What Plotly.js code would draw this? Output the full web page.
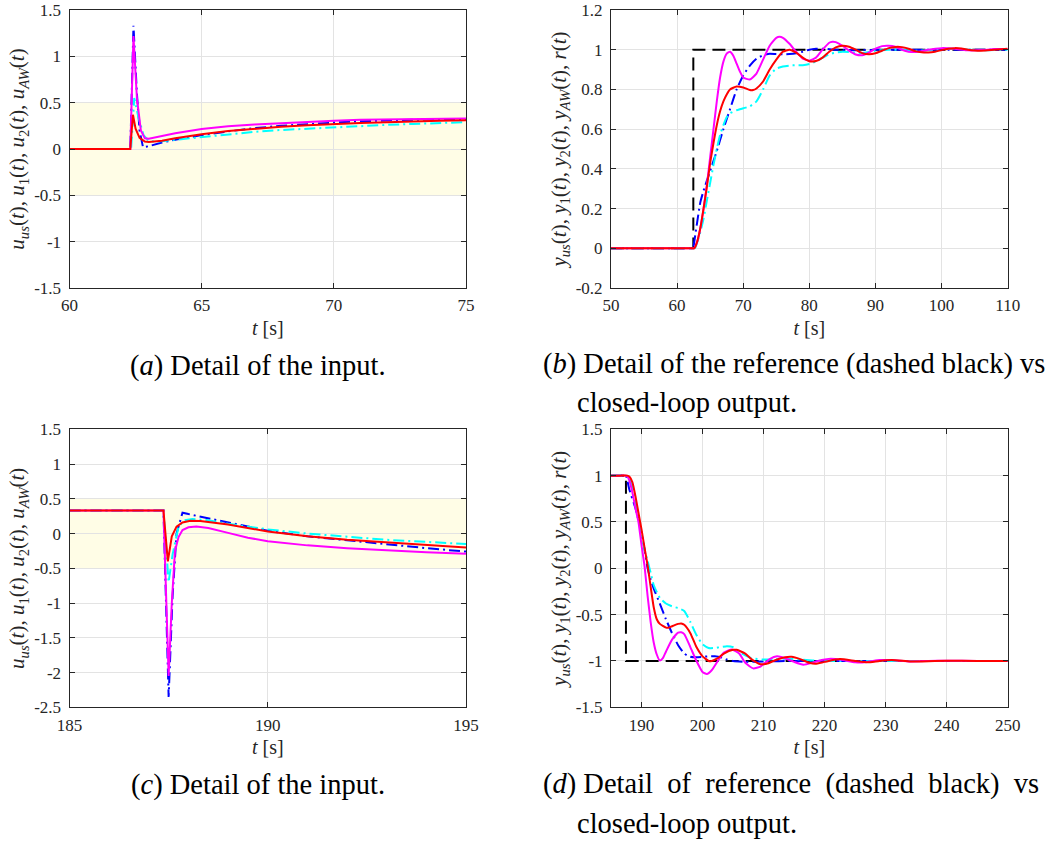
<!DOCTYPE html>
<html>
<head>
<meta charset="utf-8">
<script src="https://cdn.plot.ly/plotly-3.0.1.min.js"></script>
<style>html,body{margin:0;padding:0;background:#fff;}#chart{width:1060px;height:842px;}</style>
</head>
<body>
<div id="chart"></div>
<script>
// ---------- Panel (a): input detail around first step ----------
const tA_us = [60, 62.3, 62.42, 62.55, 62.65, 62.78, 63.0, 63.5, 64, 65, 66, 67, 68, 69, 70, 71, 72, 73, 74, 75];
const uA_us = [0, 0, 1.33, 0.6, 0.2, 0.02, 0.03, 0.07, 0.1, 0.15, 0.19, 0.225, 0.25, 0.27, 0.285, 0.3, 0.31, 0.315, 0.32, 0.325];
const tA_1 = [60, 62.33, 62.45, 62.6, 62.8, 63.0, 63.3, 64, 65, 66, 67, 68, 69, 70, 71, 72, 73, 74, 75];
const uA_1 = [0, 0, 0.55, 0.35, 0.15, 0.085, 0.08, 0.1, 0.13, 0.16, 0.185, 0.205, 0.22, 0.235, 0.25, 0.26, 0.27, 0.282, 0.29];
const tA_2 = [60, 62.3, 62.42, 62.55, 62.7, 62.85, 63.0, 63.5, 64, 65, 66, 67, 68, 69, 70, 71, 72, 73, 74, 75];
const uA_2 = [0, 0, 1.22, 0.55, 0.2, 0.115, 0.11, 0.14, 0.17, 0.215, 0.245, 0.265, 0.28, 0.295, 0.305, 0.315, 0.32, 0.325, 0.328, 0.33];
const tA_AW = [60, 62.3, 62.4, 62.5, 62.65, 62.85, 63.0, 63.5, 64, 65, 66, 67, 68, 69, 70, 71, 72, 73, 74, 75];
const uA_AW = [0, 0, 0.37, 0.22, 0.12, 0.08, 0.075, 0.09, 0.115, 0.16, 0.195, 0.22, 0.24, 0.255, 0.27, 0.28, 0.29, 0.3, 0.305, 0.31];

// ---------- Panel (b): output vs reference, first step ----------
const tB_r = [50, 62.45, 62.45, 110];
const yB_r = [0, 0, 1, 1];
const tB_us = [50, 60, 62.2, 62.4, 62.8, 63.5, 64, 65, 66, 67, 68, 69, 70, 71, 72, 73, 74, 75, 76, 77, 78, 79, 80, 81, 82, 84, 86, 88, 90, 95, 100, 105, 110];
const yB_us = [0, 0, 0, 0, 0.08, 0.23, 0.29, 0.39, 0.49, 0.6, 0.7, 0.8, 0.87, 0.92, 0.955, 0.972, 0.98, 0.978, 0.977, 0.978, 0.982, 0.99, 1.0, 1.005, 1.005, 1.0, 0.998, 0.998, 1.0, 1.0, 1.0, 1.0, 1.0];
const tB_1 = [50, 60, 62.4, 62.7, 63.5, 64, 64.5, 65, 65.5, 66, 66.5, 67, 67.5, 68, 69, 70, 71, 72, 73, 74, 75, 76, 77, 78, 79, 80, 81, 82, 83, 84, 85, 86, 87, 88, 89, 90, 92, 94, 96, 98, 100, 102, 104, 106, 108, 110];
const yB_1 = [0, 0, 0, 0, 0.08, 0.15, 0.24, 0.33, 0.42, 0.5, 0.57, 0.62, 0.66, 0.68, 0.695, 0.705, 0.715, 0.74, 0.8, 0.87, 0.905, 0.915, 0.92, 0.922, 0.922, 0.928, 0.94, 0.96, 0.978, 0.985, 0.99, 0.988, 0.984, 0.983, 0.988, 0.995, 1.0, 1.0, 0.995, 0.997, 1.003, 1.005, 1.0, 0.997, 0.998, 1.0];
const tB_2 = [50, 60, 62.2, 62.5, 63, 63.5, 64, 64.5, 65, 65.5, 66, 66.5, 67, 67.5, 68, 68.5, 69, 69.5, 70, 71, 72, 73, 74, 75, 75.5, 76, 77, 78, 79, 80, 81, 82, 83, 83.5, 84, 85, 86, 87, 88, 89, 90, 91, 92, 93, 94, 95, 96, 97, 98, 100, 102, 104, 106, 108, 110];
const yB_2 = [0, 0, 0, 0, 0.03, 0.1, 0.2, 0.32, 0.46, 0.6, 0.74, 0.86, 0.94, 0.98, 0.99, 0.97, 0.93, 0.89, 0.86, 0.85, 0.88, 0.95, 1.02, 1.06, 1.065, 1.06, 1.03, 0.99, 0.955, 0.945, 0.96, 1.0, 1.035, 1.04, 1.038, 1.02, 0.995, 0.976, 0.972, 0.985, 1.005, 1.018, 1.02, 1.015, 1.0, 0.99, 0.988, 0.992, 1.0, 1.008, 1.005, 0.997, 0.998, 1.003, 1.003];
const tB_AW = [50, 60, 62.3, 62.6, 63, 63.5, 64, 64.5, 65, 65.5, 66, 66.5, 67, 67.5, 68, 69, 70, 71, 71.5, 72, 73, 74, 75, 76, 77, 78, 79, 80, 81, 82, 83, 84, 85, 86, 87, 88, 89, 90, 91, 92, 93, 94, 95, 96, 97, 98, 99, 100, 101, 102, 103, 104, 105, 106, 107, 108, 110];
const yB_AW = [0, 0, 0, 0, 0.03, 0.1, 0.2, 0.31, 0.43, 0.53, 0.62, 0.69, 0.74, 0.775, 0.8, 0.815, 0.81, 0.797, 0.797, 0.805, 0.84, 0.9, 0.95, 0.99, 1.0, 0.985, 0.96, 0.942, 0.943, 0.96, 0.99, 1.012, 1.02, 1.015, 1.0, 0.983, 0.977, 0.982, 0.995, 1.008, 1.014, 1.013, 1.005, 0.993, 0.987, 0.986, 0.99, 0.998, 1.005, 1.008, 1.006, 1.0, 0.996, 0.995, 0.997, 1.0, 1.005];

// ---------- Panel (c): input detail around second step ----------
const tC_us = [185, 187.37, 187.5, 187.6, 187.7, 187.85, 188.0, 188.5, 189, 190, 191, 192, 193, 194, 195];
const uC_us = [0.33, 0.33, -2.35, -0.9, 0.0, 0.3, 0.28, 0.22, 0.15, 0.04, -0.04, -0.1, -0.16, -0.21, -0.26];
const tC_1 = [185, 187.37, 187.5, 187.6, 187.75, 187.9, 188.1, 188.5, 189, 190, 191, 192, 193, 194, 195];
const uC_1 = [0.33, 0.33, -0.7, -0.3, 0.1, 0.19, 0.21, 0.19, 0.14, 0.06, 0.0, -0.05, -0.09, -0.12, -0.15];
const tC_2 = [185, 187.37, 187.5, 187.58, 187.66, 187.75, 187.85, 188.0, 188.2, 188.5, 189, 189.5, 190, 191, 192, 193, 194, 195];
const uC_2 = [0.33, 0.33, -2.05, -1.0, -0.25, -0.05, 0.05, 0.09, 0.1, 0.08, 0.01, -0.06, -0.11, -0.17, -0.21, -0.245, -0.27, -0.29];
const tC_AW = [185, 187.37, 187.48, 187.58, 187.7, 187.85, 188.05, 188.3, 188.6, 189, 190, 191, 192, 193, 194, 195];
const uC_AW = [0.33, 0.33, -0.4, -0.04, 0.1, 0.16, 0.185, 0.18, 0.16, 0.13, 0.03, -0.04, -0.09, -0.13, -0.17, -0.2];

// ---------- Panel (d): output vs reference, second step ----------
const tD_r = [185, 187.45, 187.45, 250];
const yD_r = [1, 1, -1, -1];
const tD_us = [185, 186.5, 187.3, 187.5, 188, 189, 190, 190.5, 191, 191.5, 192, 193, 194, 195, 196, 197, 198, 199, 200, 201, 202, 203, 204, 205, 207, 210, 215, 220, 250];
const yD_us = [1, 1, 1, 0.99, 0.85, 0.65, 0.38, 0.2, 0.0, -0.12, -0.22, -0.38, -0.55, -0.7, -0.83, -0.92, -0.955, -0.96, -0.955, -0.95, -0.95, -0.96, -0.985, -1.0, -1.01, -1.005, -1.0, -1.0, -1.0];
const tD_1 = [185, 186.5, 187.4, 187.7, 188, 188.5, 189, 189.5, 190, 190.5, 191, 191.5, 192, 193, 194, 195, 196, 197, 198, 199, 200, 201, 202, 203, 204, 205, 206, 207, 208, 209, 210, 212, 214, 216, 218, 220, 225, 230, 250];
const yD_1 = [1, 1, 1, 0.995, 0.97, 0.88, 0.72, 0.55, 0.38, 0.2, 0.08, -0.05, -0.18, -0.32, -0.38, -0.41, -0.43, -0.46, -0.58, -0.72, -0.82, -0.86, -0.86, -0.85, -0.84, -0.85, -0.9, -0.94, -0.97, -0.98, -0.985, -0.98, -0.975, -0.985, -0.995, -1.0, -1.0, -1.0, -1.0];
const tD_2 = [185, 186.5, 187.4, 187.6, 188, 188.5, 189, 189.5, 190, 190.5, 191, 191.5, 192, 192.5, 193, 193.5, 194, 195, 196, 196.5, 197, 198, 199, 200, 200.7, 201.5, 202.5, 203.5, 204.8, 206, 207, 208.3, 209.5, 211, 212.2, 213.5, 215, 216.5, 218, 219.5, 221, 223, 225, 227, 229, 231, 234, 237, 240, 245, 250];
const yD_2 = [1, 1, 1, 0.995, 0.95, 0.82, 0.65, 0.5, 0.25, 0.02, -0.3, -0.58, -0.8, -0.93, -0.995, -0.97, -0.9, -0.77, -0.695, -0.69, -0.71, -0.85, -1.0, -1.12, -1.14, -1.1, -1.0, -0.91, -0.875, -0.92, -1.02, -1.08, -1.06, -0.98, -0.95, -0.97, -1.01, -1.04, -1.02, -0.99, -0.975, -0.99, -1.015, -1.01, -0.99, -0.99, -1.005, -1.0, -0.997, -1.0, -1.0];
const tD_AW = [185, 186.5, 187.7, 188, 188.5, 189, 189.5, 190, 190.5, 191, 191.5, 192, 192.5, 193, 194, 194.5, 195, 196, 196.5, 197, 198, 199, 200, 201, 201.5, 202.5, 203.5, 205, 205.6, 207, 208, 209.5, 210.5, 212, 213.5, 214.6, 216, 217.5, 218.5, 220, 222.5, 225, 227, 229, 231, 234, 236, 240, 245, 250];
const yD_AW = [1, 1, 1, 0.99, 0.93, 0.78, 0.6, 0.42, 0.22, 0.03, -0.2, -0.42, -0.55, -0.6, -0.64, -0.64, -0.625, -0.6, -0.595, -0.61, -0.7, -0.85, -0.95, -1.0, -1.0, -0.97, -0.92, -0.88, -0.88, -0.92, -0.98, -1.035, -1.03, -0.99, -0.96, -0.955, -0.98, -1.02, -1.03, -1.01, -0.98, -1.0, -1.015, -1.0, -0.99, -1.005, -1.005, -0.998, -1.0, -1.0];

// ---------- Tick labels and limits ----------
const xTicksA = [60, 65, 70, 75];
const yTicksA = [-1.5, -1, -0.5, 0, 0.5, 1, 1.5];
const yTickTextA = ['-1.5', '-1', '-0.5', '0', '0.5', '1', '1.5'];
const xTicksB = [50, 60, 70, 80, 90, 100, 110];
const yTicksB = [-0.2, 0, 0.2, 0.4, 0.6, 0.8, 1, 1.2];
const yTickTextB = ['-0.2', '0', '0.2', '0.4', '0.6', '0.8', '1', '1.2'];
const xTicksC = [185, 190, 195];
const yTicksC = [-2.5, -2, -1.5, -1, -0.5, 0, 0.5, 1, 1.5];
const yTickTextC = ['-2.5', '-2', '-1.5', '-1', '-0.5', '0', '0.5', '1', '1.5'];
const xTicksD = [190, 200, 210, 220, 230, 240, 250];
const yTicksD = [-1.5, -1, -0.5, 0, 0.5, 1, 1.5];
const yTickTextD = ['-1.5', '-1', '-0.5', '0', '0.5', '1', '1.5'];
const satLimits = [-0.5, 0.5];

// ---------- Styling ----------
const W = 1060, H = 842;
const FONT = '"Liberation Serif", "Times New Roman", serif';
const C_US = '#0000ff', C_1 = '#00ffff', C_2 = '#ff00ff', C_AW = '#ff0000';
const DASHDOT = '11px,4px,2px,4px';
const LW = 2;

function line(x, y, color, dash, xa, ya, shape, width) {
  return { x: x, y: y, type: 'scatter', mode: 'lines', xaxis: xa, yaxis: ya,
           line: { color: color, width: width || LW, dash: dash || 'solid', shape: shape || 'linear', smoothing: 0.5 },
           hoverinfo: 'skip', showlegend: false };
}

const data = [
  line(tA_us, uA_us, C_US, DASHDOT, 'x', 'y'),
  line(tA_1, uA_1, C_1, DASHDOT, 'x', 'y'),
  line(tA_2, uA_2, C_2, 'solid', 'x', 'y'),
  line(tA_AW, uA_AW, C_AW, 'solid', 'x', 'y'),

  line(tB_r, yB_r, '#000000', '13px,7px', 'x2', 'y2'),
  line(tB_us, yB_us, C_US, DASHDOT, 'x2', 'y2', 'spline'),
  line(tB_1, yB_1, C_1, DASHDOT, 'x2', 'y2', 'spline'),
  line(tB_2, yB_2, C_2, 'solid', 'x2', 'y2', 'spline'),
  line(tB_AW, yB_AW, C_AW, 'solid', 'x2', 'y2', 'spline'),

  line(tC_us, uC_us, C_US, DASHDOT, 'x3', 'y3'),
  line(tC_1, uC_1, C_1, DASHDOT, 'x3', 'y3'),
  line(tC_2, uC_2, C_2, 'solid', 'x3', 'y3'),
  line(tC_AW, uC_AW, C_AW, 'solid', 'x3', 'y3'),

  line(tD_r, yD_r, '#000000', '13px,7px', 'x4', 'y4'),
  line(tD_us, yD_us, C_US, DASHDOT, 'x4', 'y4', 'spline'),
  line(tD_1, yD_1, C_1, DASHDOT, 'x4', 'y4', 'spline'),
  line(tD_2, yD_2, C_2, 'solid', 'x4', 'y4', 'spline'),
  line(tD_AW, yD_AW, C_AW, 'solid', 'x4', 'y4', 'spline')
];

function px2fx(px) { return px / W; }
function py2fy(py) { return 1 - py / H; }

const xDomL = [px2fx(69.5), px2fx(466)];
const xDomR = [px2fx(611), px2fx(1007.7)];
const yDomT = [py2fy(288), py2fy(10)];
const yDomB = [py2fy(707.3), py2fy(429.3)];

const tickFont = { family: FONT, size: 17, color: '#262626' };
const xTitleFont = { family: FONT, size: 20, color: '#262626' };
const yTitleFont = { family: FONT, size: 21, color: '#262626' };

function xax(domain, range, ticks, anchor) {
  return { domain: domain, range: range, anchor: anchor, tickvals: ticks, ticktext: ticks.map(String),
           showgrid: true, gridcolor: '#e3e3e3', gridwidth: 1, zeroline: false,
           showline: true, linecolor: '#262626', linewidth: 1, mirror: 'ticks',
           ticks: 'inside', ticklen: 5, tickcolor: '#262626', tickfont: tickFont, ticklabelstandoff: 2,
           title: { text: '<i>t</i> [s]', font: xTitleFont, standoff: 6 } };
}
function yax(domain, range, ticks, text, anchor, title) {
  return { domain: domain, range: range, anchor: anchor, tickvals: ticks, ticktext: text,
           showgrid: true, gridcolor: '#e3e3e3', gridwidth: 1, zeroline: false,
           showline: true, linecolor: '#262626', linewidth: 1, mirror: 'ticks',
           ticks: 'inside', ticklen: 5, tickcolor: '#262626', tickfont: tickFont, ticklabelstandoff: 4,
           title: { text: title, font: yTitleFont, standoff: 3 } };
}

const uTitle = '<i>u</i><sub><i>us</i></sub>(<i>t</i>), <i>u</i><sub>1</sub>(<i>t</i>), <i>u</i><sub>2</sub>(<i>t</i>), <i>u</i><sub><i>AW</i></sub>(<i>t</i>)';
const yTitle = '<i>y</i><sub><i>us</i></sub>(<i>t</i>), <i>y</i><sub>1</sub>(<i>t</i>), <i>y</i><sub>2</sub>(<i>t</i>), <i>y</i><sub><i>AW</i></sub>(<i>t</i>), <i>r</i>(<i>t</i>)';

const capFont = { family: FONT, size: 28.5, color: '#000000' };
function cap(text, xpx, ypx, anchor) {
  return { text: text, x: px2fx(xpx), y: py2fy(ypx), xref: 'paper', yref: 'paper',
           xanchor: anchor, yanchor: 'middle', showarrow: false, font: capFont };
}
const NB = '\u00A0';

const layout = {
  width: W, height: H,
  margin: { l: 0, r: 0, t: 0, b: 0 },
  font: { family: FONT },
  paper_bgcolor: '#ffffff', plot_bgcolor: '#ffffff',
  showlegend: false,
  xaxis: xax(xDomL, [60, 75], xTicksA, 'y'),
  yaxis: yax(yDomT, [-1.5, 1.5], yTicksA, yTickTextA, 'x', uTitle),
  xaxis2: xax(xDomR, [50, 110], xTicksB, 'y2'),
  yaxis2: yax(yDomT, [-0.2, 1.2], yTicksB, yTickTextB, 'x2', yTitle),
  xaxis3: xax(xDomL, [185, 195], xTicksC, 'y3'),
  yaxis3: yax(yDomB, [-2.5, 1.5], yTicksC, yTickTextC, 'x3', uTitle),
  xaxis4: xax(xDomR, [185, 250], xTicksD, 'y4'),
  yaxis4: yax(yDomB, [-1.5, 1.5], yTicksD, yTickTextD, 'x4', yTitle),
  shapes: [
    { type: 'rect', layer: 'below', xref: 'x domain', yref: 'y', x0: 0, x1: 1, y0: satLimits[0], y1: satLimits[1],
      fillcolor: 'rgb(255,253,230)', line: { width: 0 } },
    { type: 'rect', layer: 'below', xref: 'x3 domain', yref: 'y3', x0: 0, x1: 1, y0: satLimits[0], y1: satLimits[1],
      fillcolor: 'rgb(255,253,230)', line: { width: 0 } }
  ],
  annotations: [
    cap('(<i>a</i>) Detail of the input.', 257.5, 366, 'center'),
    cap('(<i>b</i>) Detail of the reference (dashed black) vs', 541, 364, 'left'),
    cap('closed-loop output.', 574.5, 403, 'left'),
    cap('(<i>c</i>) Detail of the input.', 257.5, 785, 'center'),
    cap('(<i>d</i>) Detail' + NB + ' of' + NB + ' reference' + NB + ' (dashed' + NB + ' black)' + NB + ' vs', 541, 784, 'left'),
    cap('closed-loop output.', 574.5, 823, 'left')
  ]
};

Plotly.newPlot('chart', data, layout, { staticPlot: true, displayModeBar: false });
</script>
</body>
</html>
